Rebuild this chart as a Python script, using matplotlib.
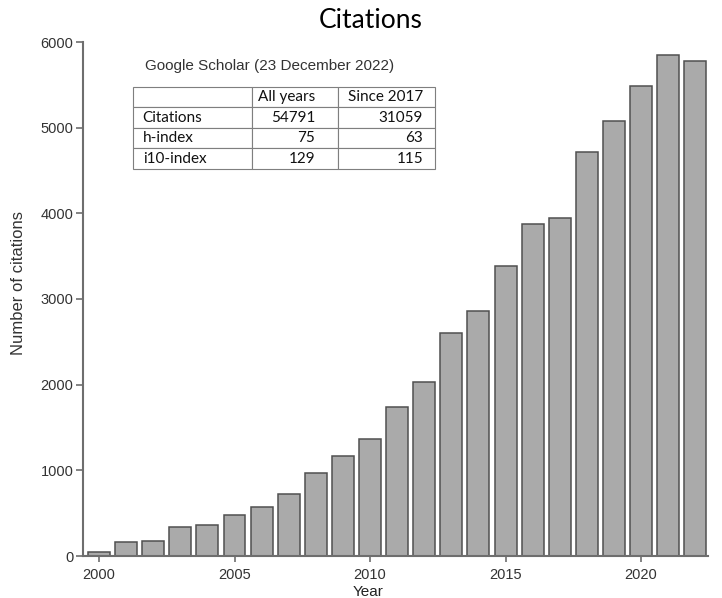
import numpy as np
import matplotlib.pyplot as plt

# citations per year
years = list(range(2000, 2023))
citations = [50, 163, 178, 338, 358, 482, 572, 727, 965, 1170, 1369, 1735,
             2030, 2606, 2859, 3380, 3878, 3944, 4716, 5080, 5488, 5843, 5776]

x_ticks = [2000, 2005, 2010, 2015, 2020]
y_ticks = [0, 1000, 2000, 3000, 4000, 5000, 6000]

# Google Scholar summary table
table_header = ["", "All years", "Since 2017"]
table_rows = ["Citations", "h-index", "i10-index"]
all_years = [54791, 75, 129]
since_2017 = [31059, 63, 115]

plt.rcParams['font.family'] = ['Liberation Sans', 'DejaVu Sans']

W, H = 722, 598
fig = plt.figure(figsize=(W / 100, H / 100), dpi=100)
ax = fig.add_axes([83 / W, 42 / H, 625 / W, 514 / H])

ax.bar(years, citations, width=0.81, color='#aaaaaa', edgecolor='#505050',
       linewidth=1.1, zorder=2)

ax.set_xlim(1999.41, 2022.47)
ax.set_ylim(0, 6000)
ax.set_xticks(x_ticks)
ax.set_yticks(y_ticks)

spine_col = '#6e6e6e'
for s in ['top', 'right']:
    ax.spines[s].set_visible(False)
for s in ['left', 'bottom']:
    ax.spines[s].set_color(spine_col)
    ax.spines[s].set_linewidth(1.5)
    ax.spines[s].set_zorder(3)

ax.tick_params(axis='y', length=5, width=1.2, color=spine_col, labelsize=10.5,
               labelcolor='#333333', pad=2)
ax.tick_params(axis='x', length=4.5, width=1.2, color=spine_col, labelsize=10.5,
               labelcolor='#333333', pad=4)

fig.text(371 / W, 1 - 28 / H, "Citations", ha='center', va='baseline',
         fontsize=19, family=['Lato', 'DejaVu Sans'])
fig.text(19 / W, 1 - 283 / H, "Number of citations", rotation=90,
         ha='center', va='center', fontsize=12, color='#333333')
fig.text(368 / W, 1 - 596 / H, "Year", ha='center', va='baseline',
         fontsize=11, color='#222222')

ax.text(0.0992, 0.953, "Google Scholar (23 December 2022)", transform=ax.transAxes,
        ha='left', va='center', fontsize=11, color='#333333')

cells = [table_header]
for name, a, b in zip(table_rows, all_years, since_2017):
    cells.append([name, str(a), str(b)])

tbl = ax.table(cellText=cells, cellLoc='right', colWidths=[0.394, 0.286, 0.320],
               bbox=[0.0795, 0.7529, 0.4837, 0.1601])
tbl.auto_set_font_size(False)
pads = {0: 0.084, 1: 0.265, 2: 0.124}
for (r, c), cell in tbl.get_celld().items():
    cell.set_edgecolor('#7f7f7f')
    cell.set_linewidth(0.8)
    cell.set_facecolor('white')
    cell.PAD = pads[c]
    txt = cell.get_text()
    if c == 0:
        cell._loc = 'left'
        txt.set_horizontalalignment('left')
    txt.set_fontsize(11)
    txt.set_family(['Lato', 'DejaVu Sans'])
    txt.set_color('#111111')
tbl.set_zorder(4)

fig.savefig("out.png", dpi=100)
